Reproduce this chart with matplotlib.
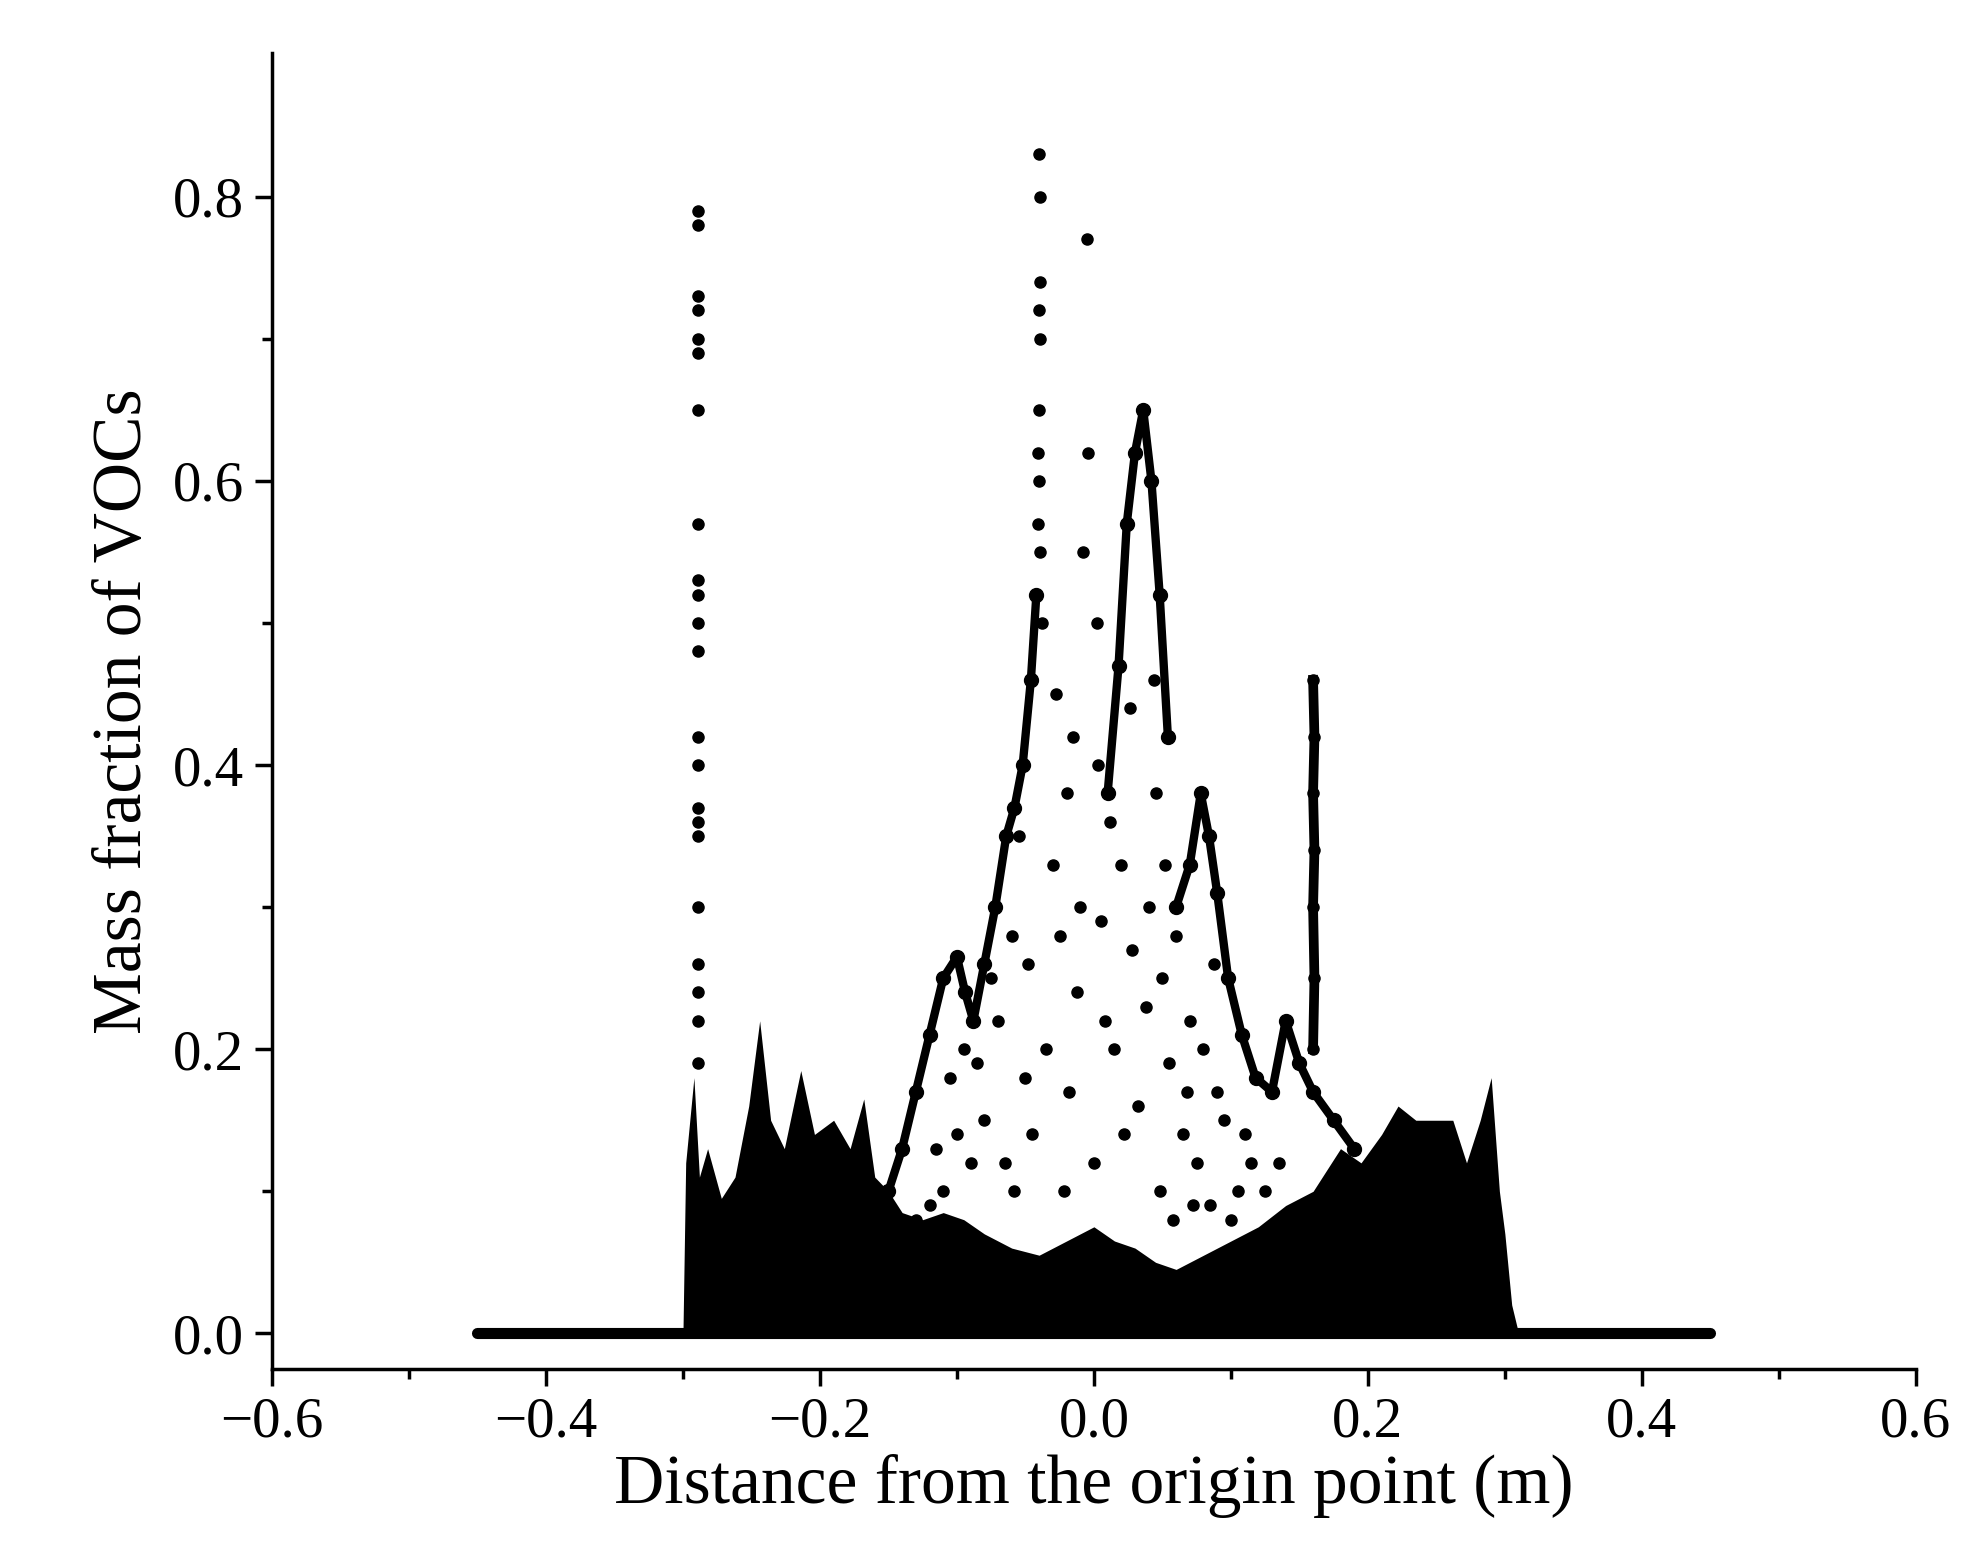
import matplotlib
matplotlib.use("Agg")
from matplotlib import pyplot as plt
import numpy as np

plt.rcParams['font.family'] = ['Liberation Serif', 'DejaVu Serif']

# upper envelope of the dense (solid black) mass near the base
env_x = [-0.300, -0.298, -0.292, -0.288, -0.282, -0.272, -0.262, -0.252, -0.244, -0.236,
         -0.226, -0.214, -0.204, -0.190, -0.178, -0.168, -0.160, -0.150, -0.140, -0.125,
         -0.110, -0.095, -0.080, -0.060, -0.040, -0.020, 0.000, 0.015, 0.030, 0.045,
         0.060, 0.080, 0.100, 0.120, 0.140, 0.160, 0.180, 0.195, 0.210, 0.222, 0.235,
         0.250, 0.262, 0.272, 0.282, 0.290, 0.296, 0.300, 0.305, 0.310]
env_y = [0.000, 0.120, 0.180, 0.110, 0.130, 0.095, 0.110, 0.160, 0.220, 0.150,
         0.130, 0.185, 0.140, 0.150, 0.130, 0.165, 0.110, 0.100, 0.085, 0.080,
         0.085, 0.080, 0.070, 0.060, 0.055, 0.065, 0.075, 0.065, 0.060, 0.050,
         0.045, 0.055, 0.065, 0.075, 0.090, 0.100, 0.130, 0.120, 0.140, 0.160, 0.150,
         0.150, 0.150, 0.120, 0.150, 0.180, 0.100, 0.070, 0.020, 0.000]

# flat zero baseline
base_x = [-0.45, 0.45]
base_y = [0.0, 0.0]

# ridges of closely spaced points
ridge_left_x = [-0.150, -0.140, -0.130, -0.120, -0.110, -0.100, -0.094, -0.088, -0.080, -0.072,
                -0.064, -0.058, -0.052, -0.046, -0.042]
ridge_left_y = [0.100, 0.130, 0.170, 0.210, 0.250, 0.265, 0.240, 0.220, 0.260, 0.300,
                0.350, 0.370, 0.400, 0.460, 0.520]
ridge_right_x = [0.060, 0.070, 0.078, 0.084, 0.090, 0.098, 0.108, 0.118, 0.130, 0.140, 0.150, 0.160, 0.175, 0.190]
ridge_right_y = [0.300, 0.330, 0.380, 0.350, 0.310, 0.250, 0.210, 0.180, 0.170, 0.220, 0.190, 0.170, 0.150, 0.130]
ridge_top_x = [0.010, 0.018, 0.024, 0.030, 0.036, 0.042, 0.048, 0.054]
ridge_top_y = [0.380, 0.470, 0.570, 0.620, 0.650, 0.600, 0.520, 0.420]

spike1_x = [-0.289] * 22
spike1_y = [0.79, 0.78, 0.73, 0.72, 0.70, 0.69, 0.65, 0.57, 0.53, 0.52, 0.50, 0.48,
            0.42, 0.40, 0.37, 0.36, 0.35, 0.30, 0.26, 0.24, 0.22, 0.19]
spike2_x = [-0.040, -0.039, -0.039, -0.040, -0.039, -0.040, -0.041, -0.040, -0.041, -0.039, -0.038]
spike2_y = [0.83, 0.80, 0.74, 0.72, 0.70, 0.65, 0.62, 0.60, 0.57, 0.55, 0.50]
spike3_x = [0.160, 0.161, 0.160, 0.161, 0.160, 0.161, 0.160]
spike3_y = [0.46, 0.42, 0.38, 0.34, 0.30, 0.25, 0.20]

# sparse points inside the central peak
sparse_x = [-0.005, -0.004, -0.008, 0.002, -0.015, -0.020, -0.030, -0.025, -0.012, 0.005,
            0.012, 0.020, 0.028, 0.040, 0.050, 0.045, 0.060, 0.070, 0.080, 0.090,
            -0.060, -0.070, -0.050, -0.080, -0.090, -0.100, -0.110, -0.120, -0.130, -0.065,
            -0.045, -0.035, -0.018, 0.000, 0.015, 0.032, 0.055, 0.065, 0.075, 0.095,
            0.105, 0.115, 0.100, 0.085, -0.075, -0.085, -0.055, -0.028, 0.008, 0.022,
            0.038, 0.048, 0.058, 0.068, -0.095, -0.105, -0.115, 0.110, 0.125, 0.135,
            -0.010, 0.003, 0.026, -0.022, 0.044, -0.048, -0.058, 0.052, 0.072, 0.088]
sparse_y = [0.77, 0.62, 0.55, 0.50, 0.42, 0.38, 0.33, 0.28, 0.24, 0.29,
            0.36, 0.33, 0.27, 0.30, 0.25, 0.38, 0.28, 0.22, 0.20, 0.17,
            0.28, 0.22, 0.18, 0.15, 0.12, 0.14, 0.10, 0.09, 0.08, 0.12,
            0.14, 0.20, 0.17, 0.12, 0.20, 0.16, 0.19, 0.14, 0.12, 0.15,
            0.10, 0.12, 0.08, 0.09, 0.25, 0.19, 0.35, 0.45, 0.22, 0.14,
            0.23, 0.10, 0.08, 0.17, 0.20, 0.18, 0.13, 0.14, 0.10, 0.12,
            0.30, 0.40, 0.44, 0.10, 0.46, 0.26, 0.10, 0.33, 0.09, 0.26]

fig = plt.figure(figsize=(19.71, 15.68), dpi=100)
ax = fig.add_axes([0.138, 0.127, 0.834, 0.839])

ax.fill_between(env_x, 0, env_y, color='black', lw=0)
ax.plot(base_x, base_y, color='black', lw=8, solid_capstyle='round')
for xs, ys in [(ridge_left_x, ridge_left_y), (ridge_right_x, ridge_right_y), (ridge_top_x, ridge_top_y)]:
    ax.plot(xs, ys, color='black', lw=6, marker='o', ms=10)
for xs, ys in [(spike1_x, spike1_y), (spike2_x, spike2_y), (spike3_x, spike3_y)]:
    ax.plot(xs, ys, ls='none', color='black', marker='o', ms=8)
ax.plot(spike3_x, spike3_y, color='black', lw=7)
ax.plot(sparse_x, sparse_y, ls='none', color='black', marker='o', ms=8)

ax.set_xlim(-0.6, 0.6)
ax.set_ylim(-0.025, 0.901)
ax.set_xticks([-0.6, -0.4, -0.2, 0.0, 0.2, 0.4, 0.6])
ax.set_xticklabels(['\u22120.6', '\u22120.4', '\u22120.2', '0.0', '0.2', '0.4', '0.6'])
ax.set_yticks([0.0, 0.2, 0.4, 0.6, 0.8])
ax.set_yticklabels(['0.0', '0.2', '0.4', '0.6', '0.8'])
ax.set_xticks(np.arange(-0.5, 0.6, 0.2), minor=True)
ax.set_yticks(np.arange(0.1, 0.9, 0.2), minor=True)
for s in ['top', 'right']:
    ax.spines[s].set_visible(False)
for s in ['left', 'bottom']:
    ax.spines[s].set_linewidth(2.5)
ax.tick_params(which='major', direction='out', length=12, width=2.5, labelsize=41, pad=8)
ax.tick_params(which='minor', direction='out', length=7, width=2.5)
ax.set_xlabel('Distance from the origin point (m)', fontsize=50, labelpad=4)
ax.set_ylabel('Mass fraction of VOCs', fontsize=50, labelpad=12)

plt.savefig('out.png', dpi=100)
